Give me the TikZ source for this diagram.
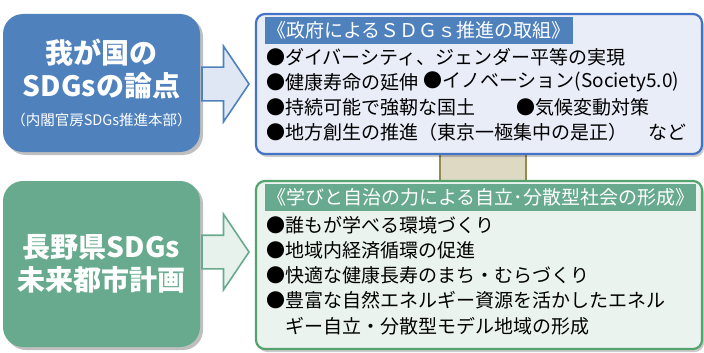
\documentclass[tikz,border=0pt]{standalone}
\usepackage{fontspec}
\setmainfont{Noto Sans CJK JP}
\usetikzlibrary{shapes,arrows,shadows}
\usetikzlibrary{positioning}
\definecolor{kuniblue}{RGB}{79,129,189}
\definecolor{panelblue}{RGB}{68,114,196}
\definecolor{paleblue}{RGB}{233,237,247}
\definecolor{arrowblue}{RGB}{222,231,243}
\definecolor{naganogreen}{RGB}{104,170,142}
\definecolor{panelgreen}{RGB}{84,163,111}
\definecolor{palegreen}{RGB}{235,243,239}
\definecolor{arrowgreen}{RGB}{232,242,237}
\definecolor{beige}{RGB}{221,217,195}
\definecolor{olive}{RGB}{148,138,84}
\tikzstyle{bigbox} = [rounded corners=20pt, text=white, align=center,
minimum width=197pt, font=\bfseries\fontsize{28}{33}\selectfont,
drop shadow={shadow xshift=3pt, shadow yshift=-3pt, opacity=0.25, fill=black}]
\tikzstyle{panel} = [draw, line width=2.2pt, rounded corners=9pt, minimum width=446pt,
drop shadow={shadow xshift=2pt, shadow yshift=-3pt, opacity=0.2, fill=black}]
\tikzstyle{heading} = [anchor=west, text=white, minimum height=27pt, inner xsep=2pt,
font=\fontsize{19}{22}\selectfont]
\tikzstyle{item} = [anchor=west, inner sep=0pt, font=\fontsize{19}{22}\selectfont]

\begin{document}
\begin{tikzpicture}[x=1pt, y=-1pt,
	flow/.style={single arrow, draw, line width=1.6pt, minimum height=47pt,
		inner xsep=0pt, inner ysep=16pt, single arrow head extend=21pt,
		single arrow tip angle=112}]
	\useasboundingbox (0,0) rectangle (704,353);
	%% link between the two panels
	\node[draw=olive, fill=beige, line width=1.2pt, minimum width=86pt,
		minimum height=34pt] (link) at (483,167) {};
	%% left boxes
	\node[bigbox, fill=kuniblue, minimum height=138pt] (kuni) at (101.5,83)
		{我が国の\\SDGsの論点\\[-4pt]{\mdseries\fontsize{14.5}{16}\selectfont （内閣官房SDGs推進本部）}};
	\node[bigbox, fill=naganogreen, minimum height=166pt] (nagano) at (101.5,264)
		{長野県SDGs\\未来都市計画};
	%% right panels
	\node[panel, draw=panelblue, fill=paleblue, minimum height=140pt] (seifu) at (479,84) {};
	\node[panel, draw=panelgreen, fill=palegreen, minimum height=168pt] (keisei) at (479,265) {};
	%% arrows
	\node[flow, draw=kuniblue, fill=arrowblue, anchor=tip] (toseifu) at (250,84) {};
	\node[flow, draw=naganogreen, fill=arrowgreen, anchor=tip] (tokeisei) at (250,252) {};
	%% government agenda
	\node[heading, fill=kuniblue] (seifutitle) at (265,30.5) {《政府によるＳＤＧｓ推進の取組》};
	\node[item] (s1) at (266,57) {●ダイバーシティ、ジェンダー平等の実現};
	\node[item] (s2) at (266,82) {●健康寿命の延伸};
	\node[item] (s3) at (423,82) {●イノベーション(Society5.0)};
	\node[item] (s4) at (266,107) {●持続可能で強靭な国土};
	\node[item] (s5) at (516,107) {●気候変動対策};
	\node[item] (s6) at (266,132) {●地方創生の推進（東京一極集中の是正）};
	\node[item] (s7) at (648,132) {など};
	%% nagano agenda
	\node[heading, fill=naganogreen, minimum width=430pt, align=left]
		(keiseititle) at (265,197) {《学びと自治の力による自立･分散型社会の形成》};
	\node[item] (k1) at (266,225) {●誰もが学べる環境づくり};
	\node[item] (k2) at (266,250) {●地域内経済循環の促進};
	\node[item] (k3) at (266,275) {●快適な健康長寿のまち・むらづくり};
	\node[item] (k4) at (266,300) {●豊富な自然エネルギー資源を活かしたエネル};
	\node[item] (k5) at (285,326) {ギー自立・分散型モデル地域の形成};
\end{tikzpicture}
\end{document}
